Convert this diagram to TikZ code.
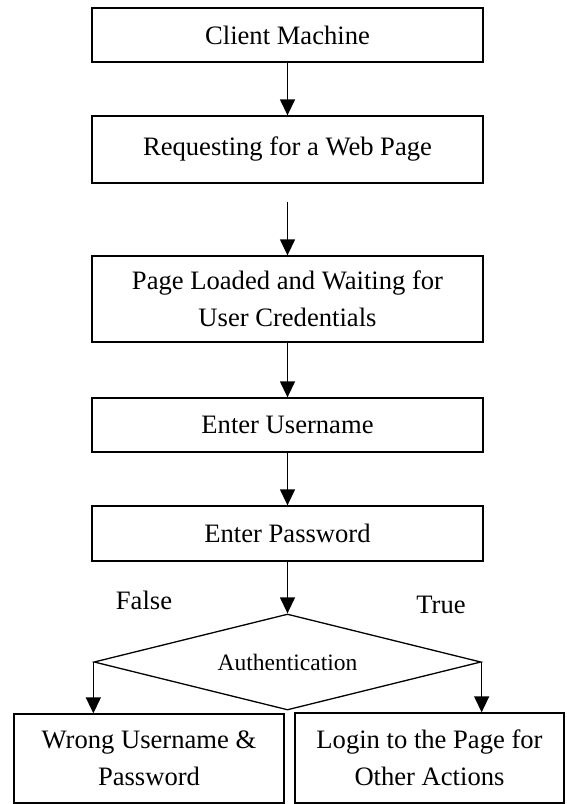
\documentclass[tikz,border=0pt]{standalone}
\usepackage{fontspec}
\setmainfont{Liberation Serif}
\usetikzlibrary{shapes.geometric,arrows.meta}

\tikzset{every path/.style={line width=1.3pt}}
\tikzset{procbox/.style={rectangle,draw,inner sep=0pt,minimum width=391pt,align=center,font=\fontsize{26.6}{37}\selectfont}}
\tikzset{decide/.style={diamond,draw,aspect=4,inner sep=0pt,minimum width=387pt,minimum height=96pt,font=\fontsize{23.5}{28}\selectfont}}
\tikzset{lbl/.style={inner sep=0pt,font=\fontsize{26.6}{30}\selectfont}}
\tikzset{flow/.style={-{Triangle[length=16pt,width=15pt]}}}

\begin{document}
\begin{tikzpicture}[x=1pt,y=-1pt]
    \useasboundingbox (0,0) rectangle (566,804);
    \node[procbox,minimum height=54pt] (cm) at (287.5,35) {Client Machine};
    \node[procbox,minimum height=67pt] (req) at (287.5,149.5) {Requesting for a Web Page};
    \coordinate (gap) at (287.5,202);
    \node[procbox,minimum height=86pt] (page) at (287.5,299) {Page Loaded and Waiting for\\User Credentials};
    \node[procbox,minimum height=54pt] (user) at (287.5,425) {Enter Username};
    \node[procbox,minimum height=55pt] (pass) at (287.5,533.5) {Enter Password};
    \node[decide] (auth) at (287.5,662) {Authentication};
    \node[lbl] (false) at (144,600) {False};
    \node[lbl] (true) at (441,605) {True};
    \node[procbox,minimum width=270pt,minimum height=89pt] (wrong) at (149,758.5) {Wrong Username \&\\Password};
    \node[procbox,minimum width=269pt,minimum height=90pt] (login) at (429.5,758) {Login to the Page for\\Other Actions};
    \path[flow] (cm) edge (req);
    \path[flow] (gap) edge (page);
    \path[flow] (page) edge (user);
    \path[flow] (user) edge (pass);
    \path[flow] (pass) edge (auth);
    \draw[flow] (auth.west) -- (auth.west |- wrong.north);
    \draw[flow] (auth.east) -- (auth.east |- login.north);
  \end{tikzpicture}
\end{document}
